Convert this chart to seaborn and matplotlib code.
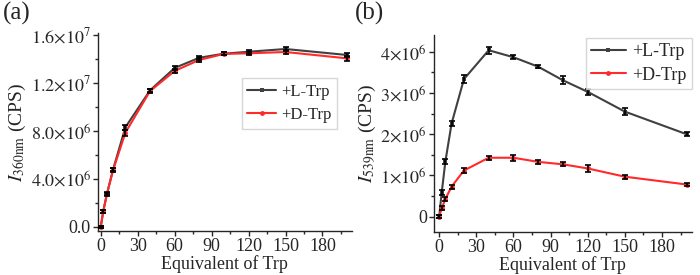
import numpy as np
import pandas as pd
import matplotlib
matplotlib.use("Agg")
import matplotlib.pyplot as plt
import seaborn as sns
from matplotlib.ticker import MultipleLocator, FuncFormatter

# equivalents of Trp added
equiv = [0, 2, 5, 10, 20, 40, 60, 80, 100, 120, 150, 200]

# (a) intensity at 360 nm
a_L = [0, 1.30e6, 2.75e6, 4.78e6, 8.30e6, 11.38e6, 13.25e6, 14.10e6, 14.44e6, 14.60e6, 14.83e6, 14.33e6]
a_D = [0, 1.28e6, 2.72e6, 4.72e6, 7.85e6, 11.32e6, 13.00e6, 13.92e6, 14.42e6, 14.47e6, 14.58e6, 14.05e6]
a_Lerr = [0.1e6, 0.12e6, 0.12e6, 0.15e6, 0.2e6, 0.15e6, 0.2e6, 0.15e6, 0.12e6, 0.15e6, 0.2e6, 0.2e6]
a_Derr = [0.1e6, 0.12e6, 0.12e6, 0.15e6, 0.25e6, 0.15e6, 0.2e6, 0.15e6, 0.12e6, 0.15e6, 0.15e6, 0.2e6]

# (b) intensity at 539 nm
b_L = [0, 0.58e6, 1.34e6, 2.26e6, 3.34e6, 4.04e6, 3.87e6, 3.64e6, 3.31e6, 3.03e6, 2.55e6, 2.00e6]
b_D = [0, 0.20e6, 0.43e6, 0.73e6, 1.12e6, 1.43e6, 1.43e6, 1.33e6, 1.27e6, 1.17e6, 0.97e6, 0.78e6]
b_Lerr = [0.03e6, 0.06e6, 0.05e6, 0.05e6, 0.1e6, 0.08e6, 0.05e6, 0.03e6, 0.1e6, 0.07e6, 0.08e6, 0.05e6]
b_Derr = [0.03e6, 0.05e6, 0.05e6, 0.05e6, 0.06e6, 0.05e6, 0.07e6, 0.04e6, 0.05e6, 0.08e6, 0.05e6, 0.04e6]

labels = ["+L-Trp", "+D-Trp"]
colors = {"+L-Trp": "#404040", "+D-Trp": "#ff2a2a"}
markers = {"+L-Trp": "s", "+D-Trp": "o"}

sns.set_style("ticks")
plt.rcParams["font.family"] = "serif"
plt.rcParams["font.serif"] = ["Liberation Serif", "Times New Roman", "DejaVu Serif"]
plt.rcParams["mathtext.fontset"] = "stix"
plt.rcParams["xtick.direction"] = "out"
plt.rcParams["ytick.direction"] = "out"

fig = plt.figure(figsize=(7, 2.75), dpi=100)
ax_a = fig.add_axes([97.7 / 700, 1 - 230.7 / 275, (352 - 97.7) / 700, (230.7 - 33.3) / 275])
ax_b = fig.add_axes([434 / 700, 1 - 232.3 / 275, (691.7 - 434) / 700, (232.3 - 35) / 275])


def draw(ax, yL, yD, eL, eD):
    df = pd.DataFrame({
        "equiv": equiv * 2,
        "val": yL + yD,
        "err": eL + eD,
        "sample": [labels[0]] * len(equiv) + [labels[1]] * len(equiv),
    })
    sns.lineplot(data=df, x="equiv", y="val", hue="sample", style="sample",
                 palette=colors, markers=markers, dashes=False, lw=1.5,
                 markersize=3.5, markeredgewidth=0, ax=ax)
    for s in labels:
        sub = df[df["sample"] == s]
        ax.errorbar(sub["equiv"], sub["val"], yerr=sub["err"], fmt="none",
                    ecolor="black", elinewidth=1.2, capsize=2.0, capthick=1.2, zorder=3)
    sns.despine(ax=ax)
    ax.spines["left"].set_linewidth(1.0)
    ax.spines["bottom"].set_linewidth(1.0)
    ax.set_xlabel("Equivalent of Trp", fontsize=13, labelpad=0)
    ax.xaxis.set_major_locator(MultipleLocator(30))
    ax.xaxis.set_minor_locator(MultipleLocator(15))
    ax.tick_params(which="major", length=3.5, width=1, labelsize=13, pad=1.5)
    ax.tick_params(which="minor", length=2, width=1)


draw(ax_a, a_L, a_D, a_Lerr, a_Derr)
ax_a.set_xlim(-2.5, 204)
ax_a.set_ylim(-0.33e6, 1.614e7)
ax_a.yaxis.set_major_locator(MultipleLocator(4e6))
ax_a.yaxis.set_minor_locator(MultipleLocator(2e6))


def fmt_a(v, pos):
    if abs(v) < 1:
        return "0.0"
    e = int(np.floor(np.log10(abs(v))))
    return r"$%.1f{\times}10^{%d}$" % (v / 10 ** e, e)


ax_a.yaxis.set_major_formatter(FuncFormatter(fmt_a))
ax_a.set_ylabel(r"$I_{\mathrm{360nm}}$ (CPS)", fontsize=14, labelpad=2)
ax_a.legend(loc="upper right", bbox_to_anchor=(0.941, 0.774), borderaxespad=0,
            frameon=True, fancybox=False, edgecolor="#cccccc", fontsize=12,
            handlelength=1.7, handletextpad=0.3, borderpad=0.35, labelspacing=0.45)

draw(ax_b, b_L, b_D, b_Lerr, b_Derr)
ax_b.set_xlim(-4.2, 204)
ax_b.set_ylim(-0.38e6, 4.41e6)
ax_b.yaxis.set_major_locator(MultipleLocator(1e6))
ax_b.yaxis.set_minor_locator(MultipleLocator(0.5e6))


def fmt_b(v, pos):
    if abs(v) < 1:
        return "0"
    return r"$%d{\times}10^{6}$" % round(v / 1e6)


ax_b.yaxis.set_major_formatter(FuncFormatter(fmt_b))
ax_b.set_ylabel(r"$I_{\mathrm{539nm}}$ (CPS)", fontsize=14, labelpad=2)
ax_b.legend(loc="upper right", bbox_to_anchor=(1.0, 0.985), borderaxespad=0,
            frameon=True, fancybox=False, edgecolor="#cccccc", fontsize=13,
            handlelength=1.9, handletextpad=0.35, borderpad=0.3, labelspacing=0.35)

fig.text(3 / 700, 1 - 20 / 275, "(a)", fontsize=18, va="baseline")
fig.text(355 / 700, 1 - 20 / 275, "(b)", fontsize=18, va="baseline")

fig.savefig("out.png", dpi=100)
